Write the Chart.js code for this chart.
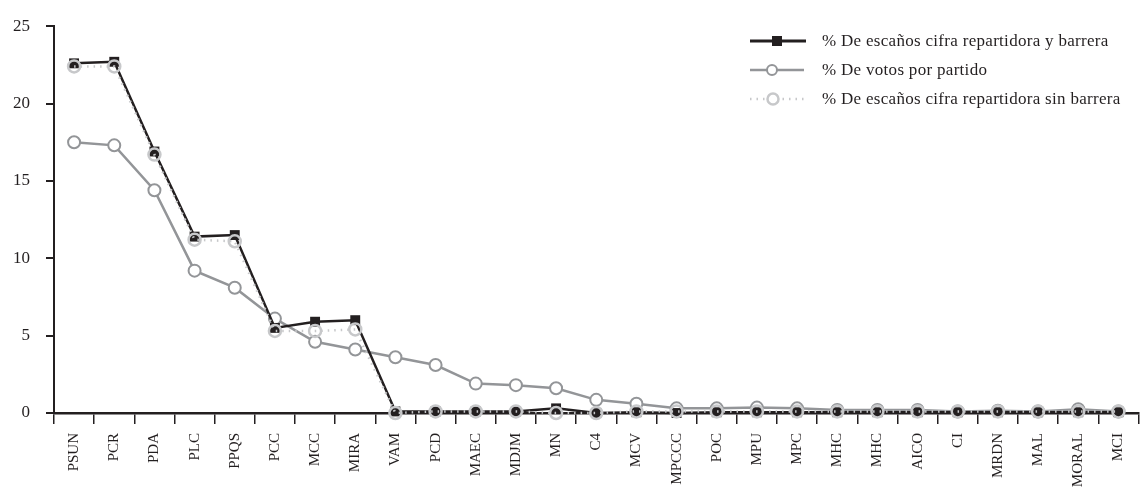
<!DOCTYPE html>
<html>
<head>
<meta charset="utf-8">
<script src="https://cdn.jsdelivr.net/npm/chart.js@4.4.0/dist/chart.umd.min.js"></script>
<style>
  html, body { margin:0; padding:0; background:#fff; overflow:hidden; }
  #wrap { position:relative; width:1147px; height:487px; }
  #legend { position:absolute; left:750px; top:26px; font-family:"Liberation Serif", serif; font-size:17px; letter-spacing:0.3px; color:#231f20; }
  .row { display:flex; align-items:center; height:29px; white-space:nowrap; }
  .row svg { width:58px; height:16px; margin-right:14px; flex:none; }
</style>
</head>
<body>
<div id="wrap">
  <canvas id="chart"></canvas>
  <div id="legend">
    <div class="row">
      <svg viewBox="0 0 58 16"><line x1="0" y1="8" x2="56" y2="8" stroke="#231f20" stroke-width="3"/><rect x="22" y="3" width="10" height="10" fill="#231f20"/></svg>
      <span>% De escaños cifra repartidora y barrera</span>
    </div>
    <div class="row">
      <svg viewBox="0 0 58 16"><line x1="0" y1="8" x2="54" y2="8" stroke="#939598" stroke-width="2.5"/><circle cx="22" cy="8" r="5" fill="#fff" stroke="#939598" stroke-width="2"/></svg>
      <span>% De votos por partido</span>
    </div>
    <div class="row">
      <svg viewBox="0 0 58 16"><line x1="0" y1="8" x2="56" y2="8" stroke="#c7c8ca" stroke-width="2.5" stroke-dasharray="1.5 5"/><circle cx="23" cy="8" r="5.5" fill="#fff" stroke="#c7c8ca" stroke-width="2.5"/></svg>
      <span>% De escaños cifra repartidora sin barrera</span>
    </div>
  </div>
</div>
<script>
const categorias = ['PSUN','PCR','PDA','PLC','PPQS','PCC','MCC','MIRA','VAM','PCD','MAEC','MDJM','MN','C4','MCV','MPCCC','POC','MPU','MPC','MHC','MHC','AICO','CI','MRDN','MAL','MORAL','MCI'];
const escanosConBarrera = [22.6,22.7,16.9,11.4,11.5,5.5,5.9,6.0,0.1,0.1,0.1,0.1,0.3,0,0.05,0,0.05,0.05,0.05,0.05,0.05,0.05,0.05,0.05,0.05,0.05,0.05];
const votosPorPartido   = [17.5,17.3,14.4,9.2,8.1,6.1,4.6,4.1,3.6,3.1,1.9,1.8,1.6,0.85,0.6,0.3,0.3,0.35,0.3,0.2,0.2,0.2,0.1,0.15,0.1,0.25,0.1];
const escanosSinBarrera = [22.4,22.4,16.7,11.2,11.1,5.3,5.3,5.4,0,0.1,0.1,0.1,0,0,0.1,0.1,0.1,0.1,0.1,0.1,0.1,0.1,0.1,0.1,0.1,0.1,0.1];
const yTicks = [0,5,10,15,20,25];

const ink = '#231f20';
const serif = '"Liberation Serif", serif';

new Chart(document.getElementById('chart'), {
  type: 'line',
  data: {
    labels: categorias,
    datasets: [
      { label:'% De escaños cifra repartidora sin barrera', data: escanosSinBarrera, order:0,
        borderColor:'#c7c8ca', borderWidth:2.5, borderDash:[1.5,5], pointStyle:'circle',
        pointRadius:6, pointBorderWidth:2.5, pointBorderColor:'#c7c8ca', pointBackgroundColor:'rgba(0,0,0,0)', clip:false },
      { label:'% De escaños cifra repartidora y barrera', data: escanosConBarrera, order:1,
        borderColor:ink, borderWidth:2.5, pointStyle:'rect', pointRadius:7,
        pointBackgroundColor:ink, pointBorderColor:ink, pointBorderWidth:0, clip:false },
      { label:'% De votos por partido', data: votosPorPartido, order:2,
        borderColor:'#939598', borderWidth:2.5, pointStyle:'circle', pointRadius:6,
        pointBackgroundColor:'#fff', pointBorderColor:'#939598', pointBorderWidth:2, clip:false }
    ]
  },
  options: {
    responsive:true,
    maintainAspectRatio:false,
    animation:false,
    layout:{ padding:{ top:21, right:0, left:0, bottom:0 } },
    plugins:{ legend:{ display:false }, tooltip:{ enabled:false } },
    scales:{
      x:{
        offset:true,
        border:{ color:ink, width:2.5 },
        grid:{ display:true, offset:true, drawOnChartArea:false, tickLength:11, color:ink, lineWidth:1.5 },
        ticks:{ color:ink, font:{ family:serif, size:15 }, minRotation:90, maxRotation:90, padding:9, autoSkip:false },
        afterFit: s => { s.height = 74; }
      },
      y:{
        min:0, max:25,
        border:{ color:ink, width:2 },
        grid:{ drawOnChartArea:false, tickLength:8, color:ink, lineWidth:2 },
        ticks:{ color:ink, font:{ family:serif, size:17 }, stepSize:5, padding:16,
          callback: v => yTicks.includes(v) ? v : '' },
        afterFit: s => { s.width = 54; }
      }
    }
  }
});
</script>
</body>
</html>
